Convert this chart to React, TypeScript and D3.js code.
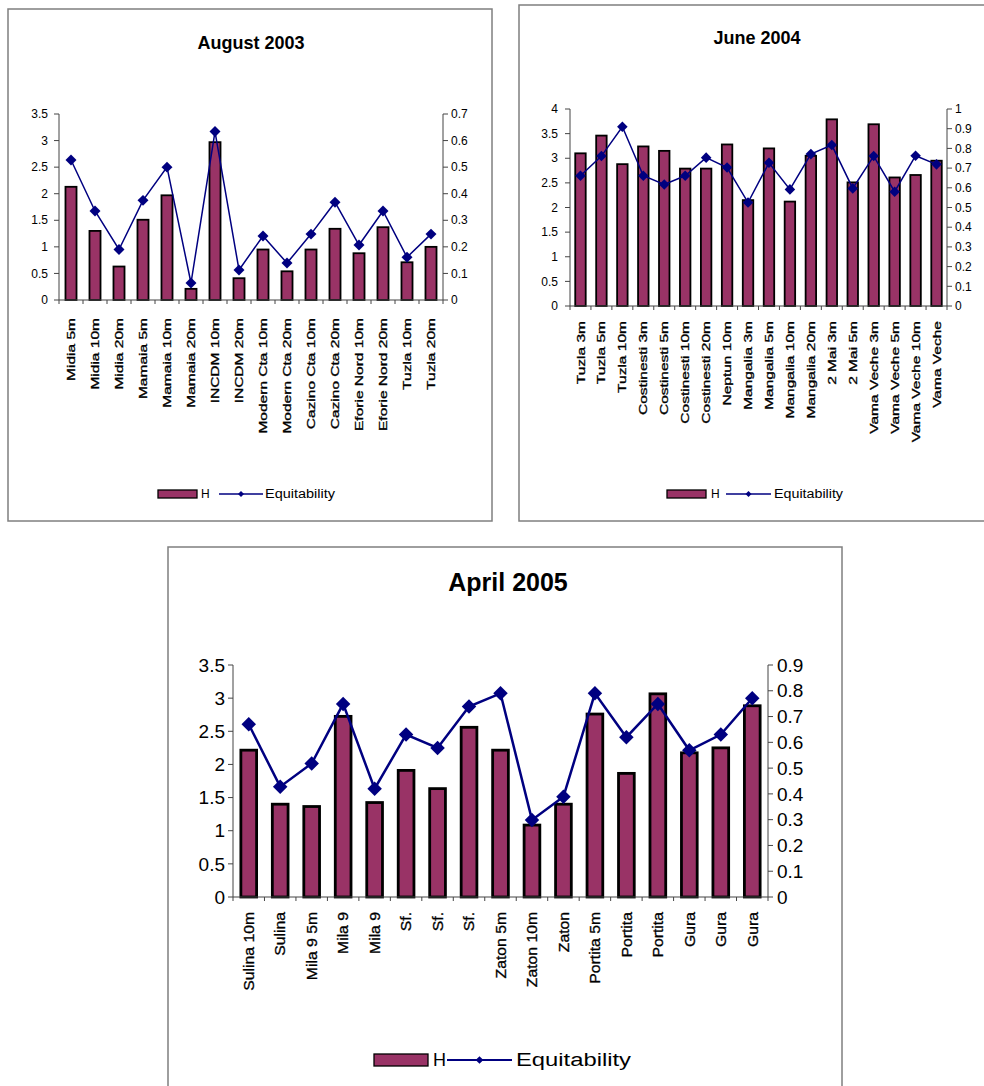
import React from "react";
import * as d3 from "d3";

// ---------- DATA ----------
const augCats = ["Midia 5m", "Midia 10m", "Midia 20m", "Mamaia 5m", "Mamaia 10m", "Mamaia 20m", "INCDM 10m", "INCDM 20m", "Modern Cta 10m", "Modern Cta 20m", "Cazino Cta 10m", "Cazino Cta 20m", "Eforie Nord 10m", "Eforie Nord 20m", "Tuzla 10m", "Tuzla 20m"];
const augH = [2.13, 1.3, 0.63, 1.51, 1.97, 0.21, 2.97, 0.41, 0.95, 0.54, 0.95, 1.34, 0.88, 1.37, 0.71, 1.0];
const augE = [0.527, 0.335, 0.19, 0.375, 0.5, 0.064, 0.634, 0.113, 0.241, 0.139, 0.248, 0.368, 0.207, 0.335, 0.161, 0.248];
const augLeftTicks = [0, 0.5, 1, 1.5, 2, 2.5, 3, 3.5];
const augRightTicks = [0, 0.1, 0.2, 0.3, 0.4, 0.5, 0.6, 0.7];

const junCats = ["Tuzla 3m", "Tuzla 5m", "Tuzla 10m", "Costinesti 3m", "Costinesti 5m", "Costinesti 10m", "Costinesti 20m", "Neptun 10m", "Mangalia 3m", "Mangalia 5m", "Mangalia 10m", "Mangalia 20m", "2 Mai 3m", "2 Mai 5m", "Vama Veche 3m", "Vama Veche 5m", "Vama Veche 10m", "Vama Veche"];
const junH = [3.1, 3.46, 2.88, 3.24, 3.15, 2.79, 2.79, 3.28, 2.15, 3.2, 2.12, 3.05, 3.79, 2.51, 3.69, 2.61, 2.66, 2.95];
const junE = [0.661, 0.761, 0.91, 0.661, 0.617, 0.661, 0.753, 0.703, 0.525, 0.727, 0.592, 0.771, 0.817, 0.597, 0.761, 0.58, 0.763, 0.719];
const junLeftTicks = [0, 0.5, 1, 1.5, 2, 2.5, 3, 3.5, 4];
const junRightTicks = [0, 0.1, 0.2, 0.3, 0.4, 0.5, 0.6, 0.7, 0.8, 0.9, 1];

const aprCats = ["Sulina 10m", "Sulina", "Mila 9 5m", "Mila 9", "Mila 9", "Sf.", "Sf.", "Sf.", "Zaton 5m", "Zaton 10m", "Zaton", "Portita 5m", "Portita", "Portita", "Gura", "Gura", "Gura"];
const aprH = [2.215, 1.4, 1.365, 2.725, 1.425, 1.91, 1.635, 2.56, 2.215, 1.085, 1.4, 2.76, 1.865, 3.065, 2.175, 2.25, 2.885];
const aprE = [0.67, 0.428, 0.518, 0.749, 0.42, 0.63, 0.578, 0.739, 0.79, 0.299, 0.389, 0.79, 0.62, 0.749, 0.569, 0.63, 0.771];
const aprLeftTicks = [0, 0.5, 1, 1.5, 2, 2.5, 3, 3.5];
const aprRightTicks = [0, 0.1, 0.2, 0.3, 0.4, 0.5, 0.6, 0.7, 0.8, 0.9];

const FONT = "'Liberation Sans', Arial, Helvetica, sans-serif";
const BAR_FILL = "#993366";
const LINE_COL = "#000080";

type Cfg = {
  title: string;
  cats: string[];
  h: number[];
  e: number[];
  lt: number[];
  rt: number[];
  frame: { x: number; y: number; w: number; h: number };
  titleX: number;
  titleY: number;
  titleSize: number;
  left: number;
  right: number;
  top: number;
  bottom: number;
  pad: number;
  tickFont: number;
  leftGap: number;
  rightGap: number;
  labelTop: number;
  labelFont: number;
  labelStretch: number;
  labelStroke: number;
  barStroke: number;
  lineW: number;
  marker: number;
  leg: {
    y: number; rx: number; rw: number; rh: number; hx: number;
    lx1: number; lx2: number; tx: number; tl: number; font: number; marker: number; lw: number;
  };
};

function Panel({ c }: { c: Cfg }) {
  const idx = c.cats.map((_, i) => i);
  const x = d3.scaleBand<number>().domain(idx).range([c.left, c.right]).paddingInner(c.pad).paddingOuter(c.pad / 2);
  const yL = d3.scaleLinear().domain([0, c.lt[c.lt.length - 1]]).range([c.bottom, c.top]);
  const yR = d3.scaleLinear().domain([0, c.rt[c.rt.length - 1]]).range([c.bottom, c.top]);
  const bw = x.bandwidth();
  const step = x.step();
  const cx = (i: number) => (x(i) as number) + bw / 2;
  const line = d3.line<number>().x((_, i) => cx(i)).y((d) => yR(d));
  const sym = d3.symbol().type(d3.symbolSquare).size(c.marker);
  const legSym = d3.symbol().type(d3.symbolSquare).size(c.leg.marker);
  const axisCol = "#444";
  return (
    <g fontFamily={FONT}>
      <rect x={c.frame.x} y={c.frame.y} width={c.frame.w} height={c.frame.h} fill="#fff" stroke="#7f7f7f" strokeWidth={1.5} />
      <text x={c.titleX} y={c.titleY} textAnchor="middle" fontWeight="bold" fontSize={c.titleSize} fill="#000">{c.title}</text>
      {/* bars */}
      {c.h.map((v, i) => (
        <rect key={"b" + i} x={x(i)} y={yL(v)} width={bw} height={c.bottom - yL(v)} fill={BAR_FILL} stroke="#000" strokeWidth={c.barStroke} />
      ))}
      {/* axes */}
      <line x1={c.left} x2={c.left} y1={c.top} y2={c.bottom} stroke={axisCol} strokeWidth={1} />
      <line x1={c.right} x2={c.right} y1={c.top} y2={c.bottom} stroke={axisCol} strokeWidth={1} />
      <line x1={c.left} x2={c.right} y1={c.bottom} y2={c.bottom} stroke={axisCol} strokeWidth={1} />
      {c.lt.map((t) => (
        <g key={"lt" + t}>
          <line x1={c.left - 5} x2={c.left} y1={yL(t)} y2={yL(t)} stroke={axisCol} />
          <text x={c.left - c.leftGap} y={yL(t)} dy="0.35em" textAnchor="end" fontSize={c.tickFont} fill="#000">{String(t)}</text>
        </g>
      ))}
      {c.rt.map((t) => (
        <g key={"rt" + t}>
          <line x1={c.right} x2={c.right + 5} y1={yR(t)} y2={yR(t)} stroke={axisCol} />
          <text x={c.right + c.rightGap} y={yR(t)} dy="0.35em" textAnchor="start" fontSize={c.tickFont} fill="#000">{String(t)}</text>
        </g>
      ))}
      {d3.range(c.cats.length + 1).map((k) => (
        <line key={"xt" + k} x1={c.left + k * step} x2={c.left + k * step} y1={c.bottom} y2={c.bottom + 4} stroke={axisCol} />
      ))}
      {/* category labels */}
      {c.cats.map((s, i) => (
        <text
          key={"c" + i}
          transform={`translate(${cx(i)},${c.labelTop}) rotate(-90) scale(${c.labelStretch},1)`}
          textAnchor="end"
          dy="0.35em"
          fontSize={c.labelFont}
          fill="#000"
          stroke="#000"
          strokeWidth={c.labelStroke}
        >
          {s}
        </text>
      ))}
      {/* line + markers */}
      <path d={line(c.e) as string} fill="none" stroke={LINE_COL} strokeWidth={c.lineW} />
      {c.e.map((v, i) => (
        <path key={"m" + i} d={sym() as string} transform={`translate(${cx(i)},${yR(v)}) rotate(45)`} fill={LINE_COL} />
      ))}
      {/* legend */}
      <rect x={c.leg.rx} y={c.leg.y - c.leg.rh / 2} width={c.leg.rw} height={c.leg.rh} fill={BAR_FILL} stroke="#000" strokeWidth={1.3} />
      <text x={c.leg.hx} y={c.leg.y} dy="0.35em" fontSize={c.leg.font} fill="#000">H</text>
      <line x1={c.leg.lx1} x2={c.leg.lx2} y1={c.leg.y} y2={c.leg.y} stroke={LINE_COL} strokeWidth={c.leg.lw} />
      <path d={legSym() as string} transform={`translate(${(c.leg.lx1 + c.leg.lx2) / 2},${c.leg.y}) rotate(45)`} fill={LINE_COL} />
      <text x={c.leg.tx} y={c.leg.y} dy="0.35em" fontSize={c.leg.font} fill="#000" textLength={c.leg.tl} lengthAdjust="spacingAndGlyphs">Equitability</text>
    </g>
  );
}

const augCfg: Cfg = {
  title: "August 2003", cats: augCats, h: augH, e: augE, lt: augLeftTicks, rt: augRightTicks,
  frame: { x: 8, y: 9, w: 484, h: 512 }, titleX: 251, titleY: 49, titleSize: 18,
  left: 59, right: 443, top: 114, bottom: 300, pad: 0.54,
  tickFont: 12, leftGap: 11, rightGap: 8,
  labelTop: 318, labelFont: 11.5, labelStretch: 1.35, labelStroke: 0.3,
  barStroke: 1.8, lineW: 1.5, marker: 60,
  leg: { y: 494, rx: 158, rw: 39, rh: 8, hx: 201, lx1: 219, lx2: 263, tx: 265, tl: 70, font: 12, marker: 18, lw: 1.3 },
};

const junCfg: Cfg = {
  title: "June 2004", cats: junCats, h: junH, e: junE, lt: junLeftTicks, rt: junRightTicks,
  frame: { x: 519, y: 5, w: 480, h: 516 }, titleX: 757, titleY: 44, titleSize: 18,
  left: 570, right: 947, top: 109, bottom: 306, pad: 0.5,
  tickFont: 12, leftGap: 12, rightGap: 8,
  labelTop: 321, labelFont: 11.5, labelStretch: 1.35, labelStroke: 0.3,
  barStroke: 1.8, lineW: 1.5, marker: 56,
  leg: { y: 494, rx: 667, rw: 39, rh: 8, hx: 711, lx1: 726, lx2: 771, tx: 774, tl: 69, font: 12, marker: 18, lw: 1.3 },
};

const aprCfg: Cfg = {
  title: "April 2005", cats: aprCats, h: aprH, e: aprE, lt: aprLeftTicks, rt: aprRightTicks,
  frame: { x: 168, y: 547, w: 674, h: 560 }, titleX: 508, titleY: 591, titleSize: 25,
  left: 233, right: 768, top: 665, bottom: 897, pad: 0.5,
  tickFont: 19, leftGap: 8, rightGap: 9,
  labelTop: 912, labelFont: 15, labelStretch: 1.05, labelStroke: 0.3,
  barStroke: 2.8, lineW: 2.5, marker: 105,
  leg: { y: 1060, rx: 374, rw: 54, rh: 12, hx: 433, lx1: 447, lx2: 512, tx: 516, tl: 115, font: 18, marker: 30, lw: 2 },
};

export default function App() {
  return (
    <svg width={984} height={1086} viewBox="0 0 984 1086" style={{ position: "absolute", left: 0, top: 0, background: "#fff" }}>
      <rect x={0} y={0} width={984} height={1086} fill="#fff" />
      <Panel c={augCfg} />
      <Panel c={junCfg} />
      <Panel c={aprCfg} />
    </svg>
  );
}
